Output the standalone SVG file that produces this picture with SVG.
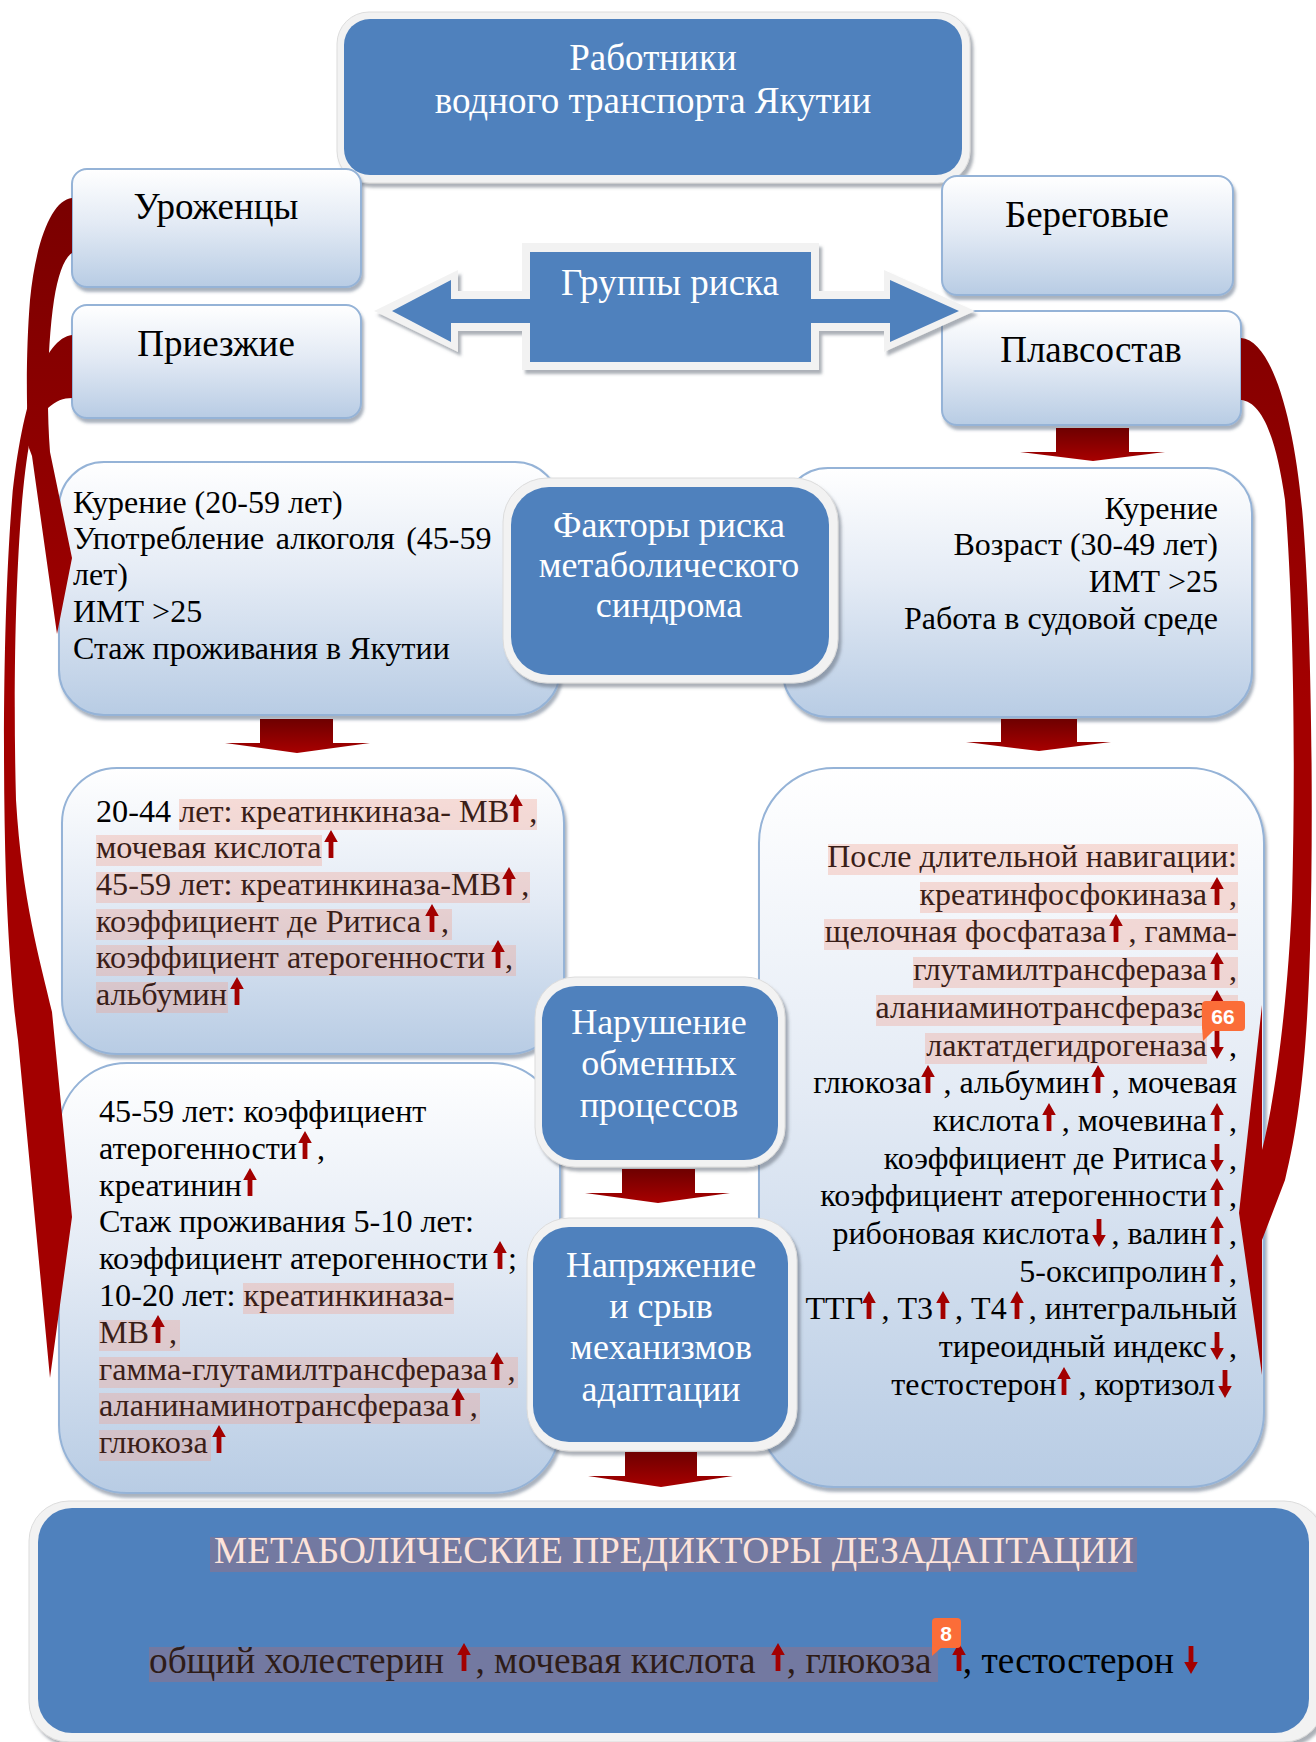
<svg xmlns="http://www.w3.org/2000/svg" width="1316" height="1742" viewBox="0 0 1316 1742">
<style>
text{font-family:"Liberation Serif","Times New Roman",serif;}
.t32{font-size:32px;fill:#000;}
.t32b{font-size:32.2px;fill:#000;}
.t37{font-size:37.3px;fill:#000;}
.w36{font-size:36px;fill:#fff;text-anchor:middle;}
.w37{font-size:37px;fill:#fff;text-anchor:middle;}
.c37{font-size:37px;fill:#000;text-anchor:middle;}
.end{text-anchor:end;}
.h{fill:#3a1e18;}
.hb{fill:#2e1c18;}
.hl{fill:#f0a090;fill-opacity:0.35;}
.lbox{fill:url(#lg);stroke:#95b3d7;stroke-width:2;filter:url(#sh);}
.frame{fill:#f2f2f2;stroke:#dcdcdc;stroke-width:1;filter:url(#sh2);}
.blue{fill:#4f81bd;}
.badge{fill:#fb6d38;}
.bt{font-family:"Liberation Sans",Arial,sans-serif;font-weight:bold;font-size:21px;fill:#fff;text-anchor:middle;}
.blk{fill:url(#rg);}
.crv{fill:url(#cg);}
</style>
<defs>
<linearGradient id="lg" x1="0" y1="0" x2="0" y2="1">
<stop offset="0" stop-color="#ffffff"/>
<stop offset="0.45" stop-color="#e4ebf5"/>
<stop offset="1" stop-color="#b8cce4"/>
</linearGradient>
<linearGradient id="rg" x1="0" y1="0" x2="0" y2="1">
<stop offset="0" stop-color="#6e0000"/>
<stop offset="1" stop-color="#a80000"/>
</linearGradient>
<linearGradient id="cg" gradientUnits="userSpaceOnUse" x1="0" y1="200" x2="0" y2="700">
<stop offset="0" stop-color="#7a0000"/>
<stop offset="1" stop-color="#a30000"/>
</linearGradient>
<filter id="sh" x="-5%" y="-5%" width="112%" height="115%">
<feDropShadow dx="2" dy="4" stdDeviation="1.5" flood-color="#3f5470" flood-opacity="0.45"/>
</filter>
<filter id="sh2" x="-5%" y="-5%" width="112%" height="115%">
<feDropShadow dx="3" dy="4" stdDeviation="1.5" flood-color="#5a6470" flood-opacity="0.5"/>
</filter>
<path id="au" d="M0,0 L6.8,12 L2.4,12 L2.4,28 L-2.4,28 L-2.4,12 L-6.8,12 Z" fill="#a30000"/>
<path id="ad" d="M0,28 L6.8,16 L2.4,16 L2.4,0 L-2.4,0 L-2.4,16 L-6.8,16 Z" fill="#a30000"/>
</defs>

<rect width="1316" height="1742" fill="#ffffff"/>

<g id="top">
<rect class="frame" x="337" y="12" width="633" height="171" rx="32"/>
<rect class="blue" x="344" y="19" width="618" height="156" rx="26"/>
<text class="w37" x="653" y="70">Работники</text>
<text class="w37" x="653" y="113">водного транспорта Якутии</text>
</g>

<g id="urozhency">
<rect class="lbox" x="72" y="169" width="289" height="118" rx="15"/>
<text class="c37" x="216" y="219">Уроженцы</text>
</g>
<g id="priezzhie">
<rect class="lbox" x="72" y="305" width="289" height="113" rx="15"/>
<text class="c37" x="216" y="356">Приезжие</text>
</g>
<g id="beregovye">
<rect class="lbox" x="942" y="176" width="291" height="119" rx="15"/>
<text class="c37" x="1087" y="227">Береговые</text>
</g>
<g id="plavsostav">
<rect class="lbox" x="942" y="311" width="299" height="114" rx="15"/>
<text class="c37" x="1091" y="362">Плавсостав</text>
</g>

<g id="gruppy">
<g filter="url(#sh2)" fill="#f2f2f2">
<path d="M374,311 L458,270 L458,291 L530,291 L530,331 L458,331 L458,352 Z"/>
<path d="M975,311 L884,270 L884,291 L811,291 L811,331 L884,331 L884,352 Z"/>
<rect x="522" y="243" width="297" height="127"/>
</g>
<path class="blue" d="M392,311 L451,280 L451,299 L531,299 L531,323 L451,323 L451,342 Z"/>
<path class="blue" d="M959,311 L890,280 L890,299 L810,299 L810,323 L890,323 L890,342 Z"/>
<rect class="blue" x="530" y="252" width="281" height="110"/>
<text class="w37" x="670" y="295">Группы риска</text>
</g>

<g id="risk-left">
<rect class="lbox" x="59" y="462" width="501" height="253" rx="45"/>
<text class="t32" x="73" y="513">Курение (20-59 лет)</text>
<text class="t32" x="73" y="549" word-spacing="3.5">Употребление алкоголя (45-59</text>
<text class="t32" x="73" y="585">лет)</text>
<text class="t32" x="73" y="622">ИМТ &gt;25</text>
<text class="t32" x="73" y="659">Стаж проживания в Якутии</text>
</g>

<g id="risk-right">
<rect class="lbox" x="783" y="468" width="469" height="249" rx="45"/>
<text class="t32 end" x="1218" y="519">Курение</text>
<text class="t32 end" x="1218" y="555">Возраст (30-49 лет)</text>
<text class="t32 end" x="1218" y="592">ИМТ &gt;25</text>
<text class="t32 end" x="1218" y="629">Работа в судовой среде</text>
</g>

<g id="faktory">
<rect class="frame" x="503" y="478" width="335" height="205" rx="44"/>
<rect class="blue" x="511" y="487" width="318" height="188" rx="38"/>
<text class="w36" x="669" y="537">Факторы риска</text>
<text class="w36" x="669" y="577">метаболического</text>
<text class="w36" x="669" y="617">синдрома</text>
</g>

<g id="mid-left">
<rect class="lbox" x="62" y="768" width="502" height="286" rx="55"/>
<rect class="hl" x="179" y="799" width="358" height="31"/>
<rect class="hl" x="96" y="835" width="226" height="31"/>
<rect class="hl" x="96" y="872" width="434" height="31"/>
<rect class="hl" x="96" y="909" width="356" height="31"/>
<rect class="hl" x="96" y="945" width="420" height="31"/>
<rect class="hl" x="96" y="982" width="132" height="31"/>
<text class="t32b" x="96" y="822">20-44 <tspan class="h">лет: креатинкиназа- МВ</tspan><tspan class="h" dx="20">,</tspan></text>
<text class="t32b h" x="96" y="858">мочевая кислота</text>
<text class="t32b h" x="96" y="895">45-59 лет: креатинкиназа-МВ<tspan dx="20">,</tspan></text>
<text class="t32b h" x="96" y="932">коэффициент де Ритиса<tspan dx="20">,</tspan></text>
<text class="t32b h" x="96" y="968">коэффициент атерогенности<tspan dx="20">,</tspan></text>
<text class="t32b h" x="96" y="1005">альбумин</text>
<use href="#au" x="516" y="794"/>
<use href="#au" x="331" y="830"/>
<use href="#au" x="509" y="867"/>
<use href="#au" x="432" y="904"/>
<use href="#au" x="498" y="940"/>
<use href="#au" x="237" y="977"/>
</g>

<g id="low-left">
<rect class="lbox" x="59" y="1063" width="501" height="430" rx="68"/>
<rect class="hl" x="243" y="1283" width="211" height="31"/>
<rect class="hl" x="99" y="1320" width="81" height="31"/>
<rect class="hl" x="99" y="1357" width="419" height="31"/>
<rect class="hl" x="99" y="1393" width="381" height="31"/>
<rect class="hl" x="99" y="1430" width="112" height="31"/>
<text class="t32b" x="99" y="1122">45-59 лет: коэффициент</text>
<text class="t32b" x="99" y="1159">атерогенности<tspan dx="20">,</tspan></text>
<text class="t32b" x="99" y="1196">креатинин</text>
<text class="t32b" x="99" y="1232">Стаж проживания 5-10 лет:</text>
<text class="t32b" x="99" y="1269">коэффициент атерогенности<tspan dx="20">;</tspan></text>
<text class="t32b" x="99" y="1306">10-20 лет: <tspan class="h">креатинкиназа-</tspan></text>
<text class="t32b h" x="99" y="1343">МВ<tspan dx="20">,</tspan></text>
<text class="t32b h" x="99" y="1380">гамма-глутамилтрансфераза<tspan dx="20">,</tspan></text>
<text class="t32b h" x="99" y="1416">аланинаминотрансфераза<tspan dx="20">,</tspan></text>
<text class="t32b h" x="99" y="1453">глюкоза</text>
<use href="#au" x="305" y="1131"/>
<use href="#au" x="250" y="1168"/>
<use href="#au" x="500" y="1241"/>
<use href="#au" x="158" y="1315"/>
<use href="#au" x="497" y="1352"/>
<use href="#au" x="458" y="1388"/>
<use href="#au" x="219" y="1425"/>
</g>

<g id="right-big">
<rect class="lbox" x="759" y="768" width="505" height="719" rx="75"/>
<rect class="hl" x="828" y="844" width="410" height="31"/>
<rect class="hl" x="920" y="882" width="318" height="31"/>
<rect class="hl" x="824" y="919" width="414" height="31"/>
<rect class="hl" x="913" y="957" width="325" height="31"/>
<rect class="hl" x="876" y="995" width="362" height="31"/>
<rect class="hl" x="925" y="1033" width="282" height="31"/>
<text class="t32 end h" x="1237" y="867">После длительной навигации:</text>
<text class="t32 end h" x="1237" y="905">креатинфосфокиназа<tspan dx="22">,</tspan></text>
<text class="t32 end h" x="1237" y="942">щелочная фосфатаза<tspan dx="22">, гамма-</tspan></text>
<text class="t32 end h" x="1237" y="980">глутамилтрансфераза<tspan dx="22">,</tspan></text>
<text class="t32 end h" x="1237" y="1018">аланиаминотрансфераза<tspan dx="22">,</tspan></text>
<text class="t32 end" x="1237" y="1056"><tspan class="h">лактатдегидрогеназа</tspan><tspan dx="22">,</tspan></text>
<text class="t32 end" x="1237" y="1093">глюкоза<tspan dx="22">, альбумин</tspan><tspan dx="22">, мочевая</tspan></text>
<text class="t32 end" x="1237" y="1131">кислота<tspan dx="22">, мочевина</tspan><tspan dx="22">,</tspan></text>
<text class="t32 end" x="1237" y="1169">коэффициент де Ритиса<tspan dx="22">,</tspan></text>
<text class="t32 end" x="1237" y="1206">коэффициент атерогенности<tspan dx="22">,</tspan></text>
<text class="t32 end" x="1237" y="1244">рибоновая кислота<tspan dx="22">, валин</tspan><tspan dx="22">,</tspan></text>
<text class="t32 end" x="1237" y="1282">5-оксипролин<tspan dx="22">,</tspan></text>
<text class="t32 end" x="1237" y="1319">ТТГ<tspan dx="22">, Т3</tspan><tspan dx="22">, Т4</tspan><tspan dx="22">, интегральный</tspan></text>
<text class="t32 end" x="1237" y="1357">тиреоидный индекс<tspan dx="22">,</tspan></text>
<text class="t32 end" x="1215" y="1395">тестостерон<tspan dx="22">, кортизол</tspan></text>
<use href="#au" x="1217" y="877"/>
<use href="#au" x="1116" y="914"/>
<use href="#au" x="1217" y="952"/>
<use href="#au" x="1217" y="990"/>
<use href="#ad" x="1217" y="1031"/>
<use href="#au" x="928" y="1065"/>
<use href="#au" x="1098" y="1065"/>
<use href="#au" x="1049" y="1103"/>
<use href="#au" x="1217" y="1103"/>
<use href="#ad" x="1217" y="1144"/>
<use href="#au" x="1217" y="1178"/>
<use href="#ad" x="1099" y="1219"/>
<use href="#au" x="1217" y="1216"/>
<use href="#au" x="1217" y="1254"/>
<use href="#au" x="869" y="1291"/>
<use href="#au" x="943" y="1291"/>
<use href="#au" x="1017" y="1291"/>
<use href="#ad" x="1217" y="1332"/>
<use href="#au" x="1064" y="1367"/>
<use href="#ad" x="1225" y="1370"/>
<rect class="badge" x="1202" y="1001" width="43" height="30" rx="4"/>
<path class="badge" d="M1202,1026 L1213,1031 L1203,1041 Z"/>
<text class="bt" x="1223" y="1024">66</text>
</g>

<g id="narushenie">
<rect class="frame" x="535" y="977" width="250" height="190" rx="40"/>
<rect class="blue" x="542" y="986" width="236" height="174" rx="34"/>
<text class="w36" x="659" y="1034">Нарушение</text>
<text class="w36" x="659" y="1075">обменных</text>
<text class="w36" x="659" y="1117">процессов</text>
</g>

<g id="napryazhenie">
<rect class="frame" x="527" y="1218" width="270" height="233" rx="42"/>
<rect class="blue" x="533" y="1227" width="255" height="215" rx="36"/>
<text class="w36" x="661" y="1277">Напряжение</text>
<text class="w36" x="661" y="1318">и срыв</text>
<text class="w36" x="661" y="1359">механизмов</text>
<text class="w36" x="661" y="1401">адаптации</text>
</g>

<g id="bottom">
<rect class="frame" x="29" y="1501" width="1295" height="241" rx="40"/>
<rect class="blue" x="38" y="1508" width="1271" height="225" rx="34"/>
<rect x="210" y="1537" width="927" height="35" fill="#7379a1"/>
<text x="674" y="1563" font-size="37.3" fill="#fde3da" text-anchor="middle">МЕТАБОЛИЧЕСКИЕ ПРЕДИКТОРЫ ДЕЗАДАПТАЦИИ</text>
<rect x="149" y="1647" width="789" height="35" fill="#7379a1"/>
<text class="t37" x="149" y="1673"><tspan class="hb">общий холестерин </tspan><tspan class="hb" dx="22">, мочевая кислота </tspan><tspan class="hb" dx="22">, глюкоза </tspan><tspan dx="22">, тестостерон</tspan></text>
<use href="#au" x="464" y="1643"/>
<use href="#au" x="778" y="1643"/>
<use href="#au" x="959" y="1643"/>
<use href="#ad" x="1191" y="1646"/>
<rect class="badge" x="932" y="1618" width="29" height="30" rx="4"/>
<path class="badge" d="M932,1644 L941,1648 L932,1656 Z"/>
<text class="bt" x="946" y="1641">8</text>
</g>

<g id="connectors">
<path class="blk" d="M260,719 L333,719 L333,743 L370,743 L297,753 L225,743 L260,743 Z"/>
<path class="blk" d="M1001,719 L1077,719 L1077,742 L1111,742 L1039,751 L966,742 L1001,742 Z"/>
<path class="blk" d="M1056,428 L1129,428 L1129,452 L1165,452 L1093,461 L1020,452 L1056,452 Z"/>
<path class="blk" d="M622,1169 L695,1169 L695,1193 L730,1193 L658,1203 L585,1193 L622,1193 Z"/>
<path class="blk" d="M625,1452 L697,1452 L697,1476 L733,1476 L661,1487 L588,1476 L625,1476 Z"/>
<path class="crv" d="M72,198 C52,200 36,240 30,300 C26,350 26,410 29,448 L32,456 L57,634 L72,558 L50,452 C46,400 48,340 54,300 C58,275 64,258 72,253 Z"/>
<path class="crv" d="M72,335 C45,338 22,400 12,500 C4,600 2,750 6,880 C9,960 14,1010 18,1040 L50,1378 L72,1217 L52,1012 C40,960 22,900 16,800 C12,650 18,500 30,440 C40,410 55,398 72,398 Z"/>
<path class="crv" d="M1241,338 C1272,340 1295,420 1303,520 C1311,620 1314,800 1310,950 C1307,1050 1300,1120 1285,1180 L1262,1240 L1262,1375 L1239,1213 L1262,1005 L1262,1150 C1275,1100 1288,1000 1292,900 C1296,750 1293,600 1285,500 C1275,430 1260,402 1241,400 Z"/>
</g>
</svg>
